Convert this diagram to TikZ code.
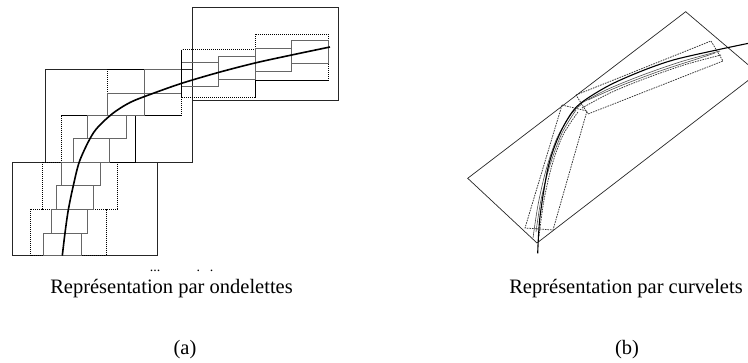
\documentclass[tikz,border=0pt]{standalone}
\usepackage{fontspec}
\setmainfont{Liberation Serif}
\begin{document}
\begin{tikzpicture}[x=1pt,y=-1pt,
 frame/.style={draw=black!85,line width=0.8pt},
 wave/.style={draw=black!60,line width=0.9pt},
 dotbox/.style={draw=black,line width=1pt,dash pattern=on 1.2pt off 0.8pt},
 curveA/.style={draw=black,line width=1.6pt},
 curveB/.style={draw=black,line width=1.1pt},
 cdash/.style={draw=black!80,line width=0.75pt,dash pattern=on 1.6pt off 1pt},
 strand/.style={draw=black!70,line width=0.6pt},
 lab/.style={font=\fontsize{20.5}{24}\selectfont,inner sep=0pt,anchor=base}]
\useasboundingbox (0,0) rectangle (748,363);
% ---------- (a) wavelets ----------
\draw[frame] (12.3,162.3) rectangle (157.7,255.7);
\draw[frame] (45,69.3) rectangle (192.3,162.3);
\draw[frame] (192.3,7.7) rectangle (338.3,100.7);
\draw[frame,line width=1.4pt] (338.3,7.7) -- (338.3,100.7);
% dotted supports
\draw[dotbox] (42.3,162.3) rectangle (117.3,209.3);
\draw[dotbox] (30.7,209.3) rectangle (106,255.7);
\draw[dotbox] (61,115.7) rectangle (135.7,162.3);
\draw[dotbox] (107.7,69.3) rectangle (181.7,115.7);
\draw[dotbox] (181.7,50) rectangle (255,97.7);
\draw[dotbox] (255,34.3) rectangle (328.3,81);
% wavelet boxes
\foreach \a/\b/\c/\d in {43.3/233.3/81/255.7, 51.7/209.3/87.7/233.3, 56/185.7/93.3/209.3,
  61.7/162.3/100/185.7, 73.3/138.3/109.3/162.3, 87.7/115.7/126/138.3,
  107.7/93/144.3/115.7, 144.3/69.3/181.7/93, 181.7/62.3/218.3/86,
  218.3/56/255/79.3, 255/48.3/291.7/71.7, 291.7/40/328.3/63.3}
  \draw[wave] (\a,\b) rectangle (\c,\d);
\draw[line width=1.3pt] (181.7,50) -- (181.7,97.7);
\draw[curveA] plot[smooth] coordinates {(62.3,255.7) (65,233) (68.3,210) (73.3,185.7) (80,160)
  (94,132) (112,114) (130,102.5) (150,94.5) (181.7,83.3) (218.3,72.5) (255,63) (291.7,55) (330,47)};
% ---------- (b) curvelets ----------
\begin{scope}
\clip (440,0) rectangle (748,363);
\draw[frame,line width=0.7pt] (685.7,11.7) -- (467.7,178.3) -- (537,243) -- (757.8,73) -- cycle;
\draw[cdash] (576,95) -- (711,41) -- (723,61) -- (588,114) -- cycle;
\draw[cdash] (562,105) -- (587,111) -- (553,230) -- (525,228) -- cycle;
\draw[strand] plot[smooth] coordinates {(533,238) (538,205) (546,170) (557,138) (572,113) (582,104)};
\draw[cdash] plot[smooth] coordinates {(539,236) (544,200) (552,165) (563,135) (578,112)};
\draw[strand] plot[smooth] coordinates {(536,232) (541,200) (550,165) (562,133) (576,110)};
\draw[strand] plot[smooth] coordinates {(580,104) (606,90) (640,76) (680,62) (720,51)};
\draw[cdash] plot[smooth] coordinates {(582,108) (610,93) (644,79) (684,65) (721,55)};
\draw[strand] plot[smooth] coordinates {(588,100) (620,86) (660,71) (700,58) (715,53)};
\draw[curveB] plot[smooth] coordinates {(537.7,253.3) (540,216.7) (548.3,166.7) (560,133.3) (576.7,106.7)
  (606.7,86.7) (640,71.7) (673.3,60) (716.7,50) (750,43)};
\end{scope}
% ---------- labels ----------
\node[lab,font=\fontsize{14}{16}\selectfont] (dots1) at (155,272) {...};
\node[lab,font=\fontsize{14}{16}\selectfont] (dots2) at (205,272) {.\hspace{10pt}.};
\node[lab] (ta) at (171.5,294) {Représentation par ondelettes};
\node[lab] (tb) at (626,294) {Représentation par curvelets};
\node[lab] (la) at (185,355) {(a)};
\node[lab] (lb) at (627,355) {(b)};
\end{tikzpicture}
\end{document}
